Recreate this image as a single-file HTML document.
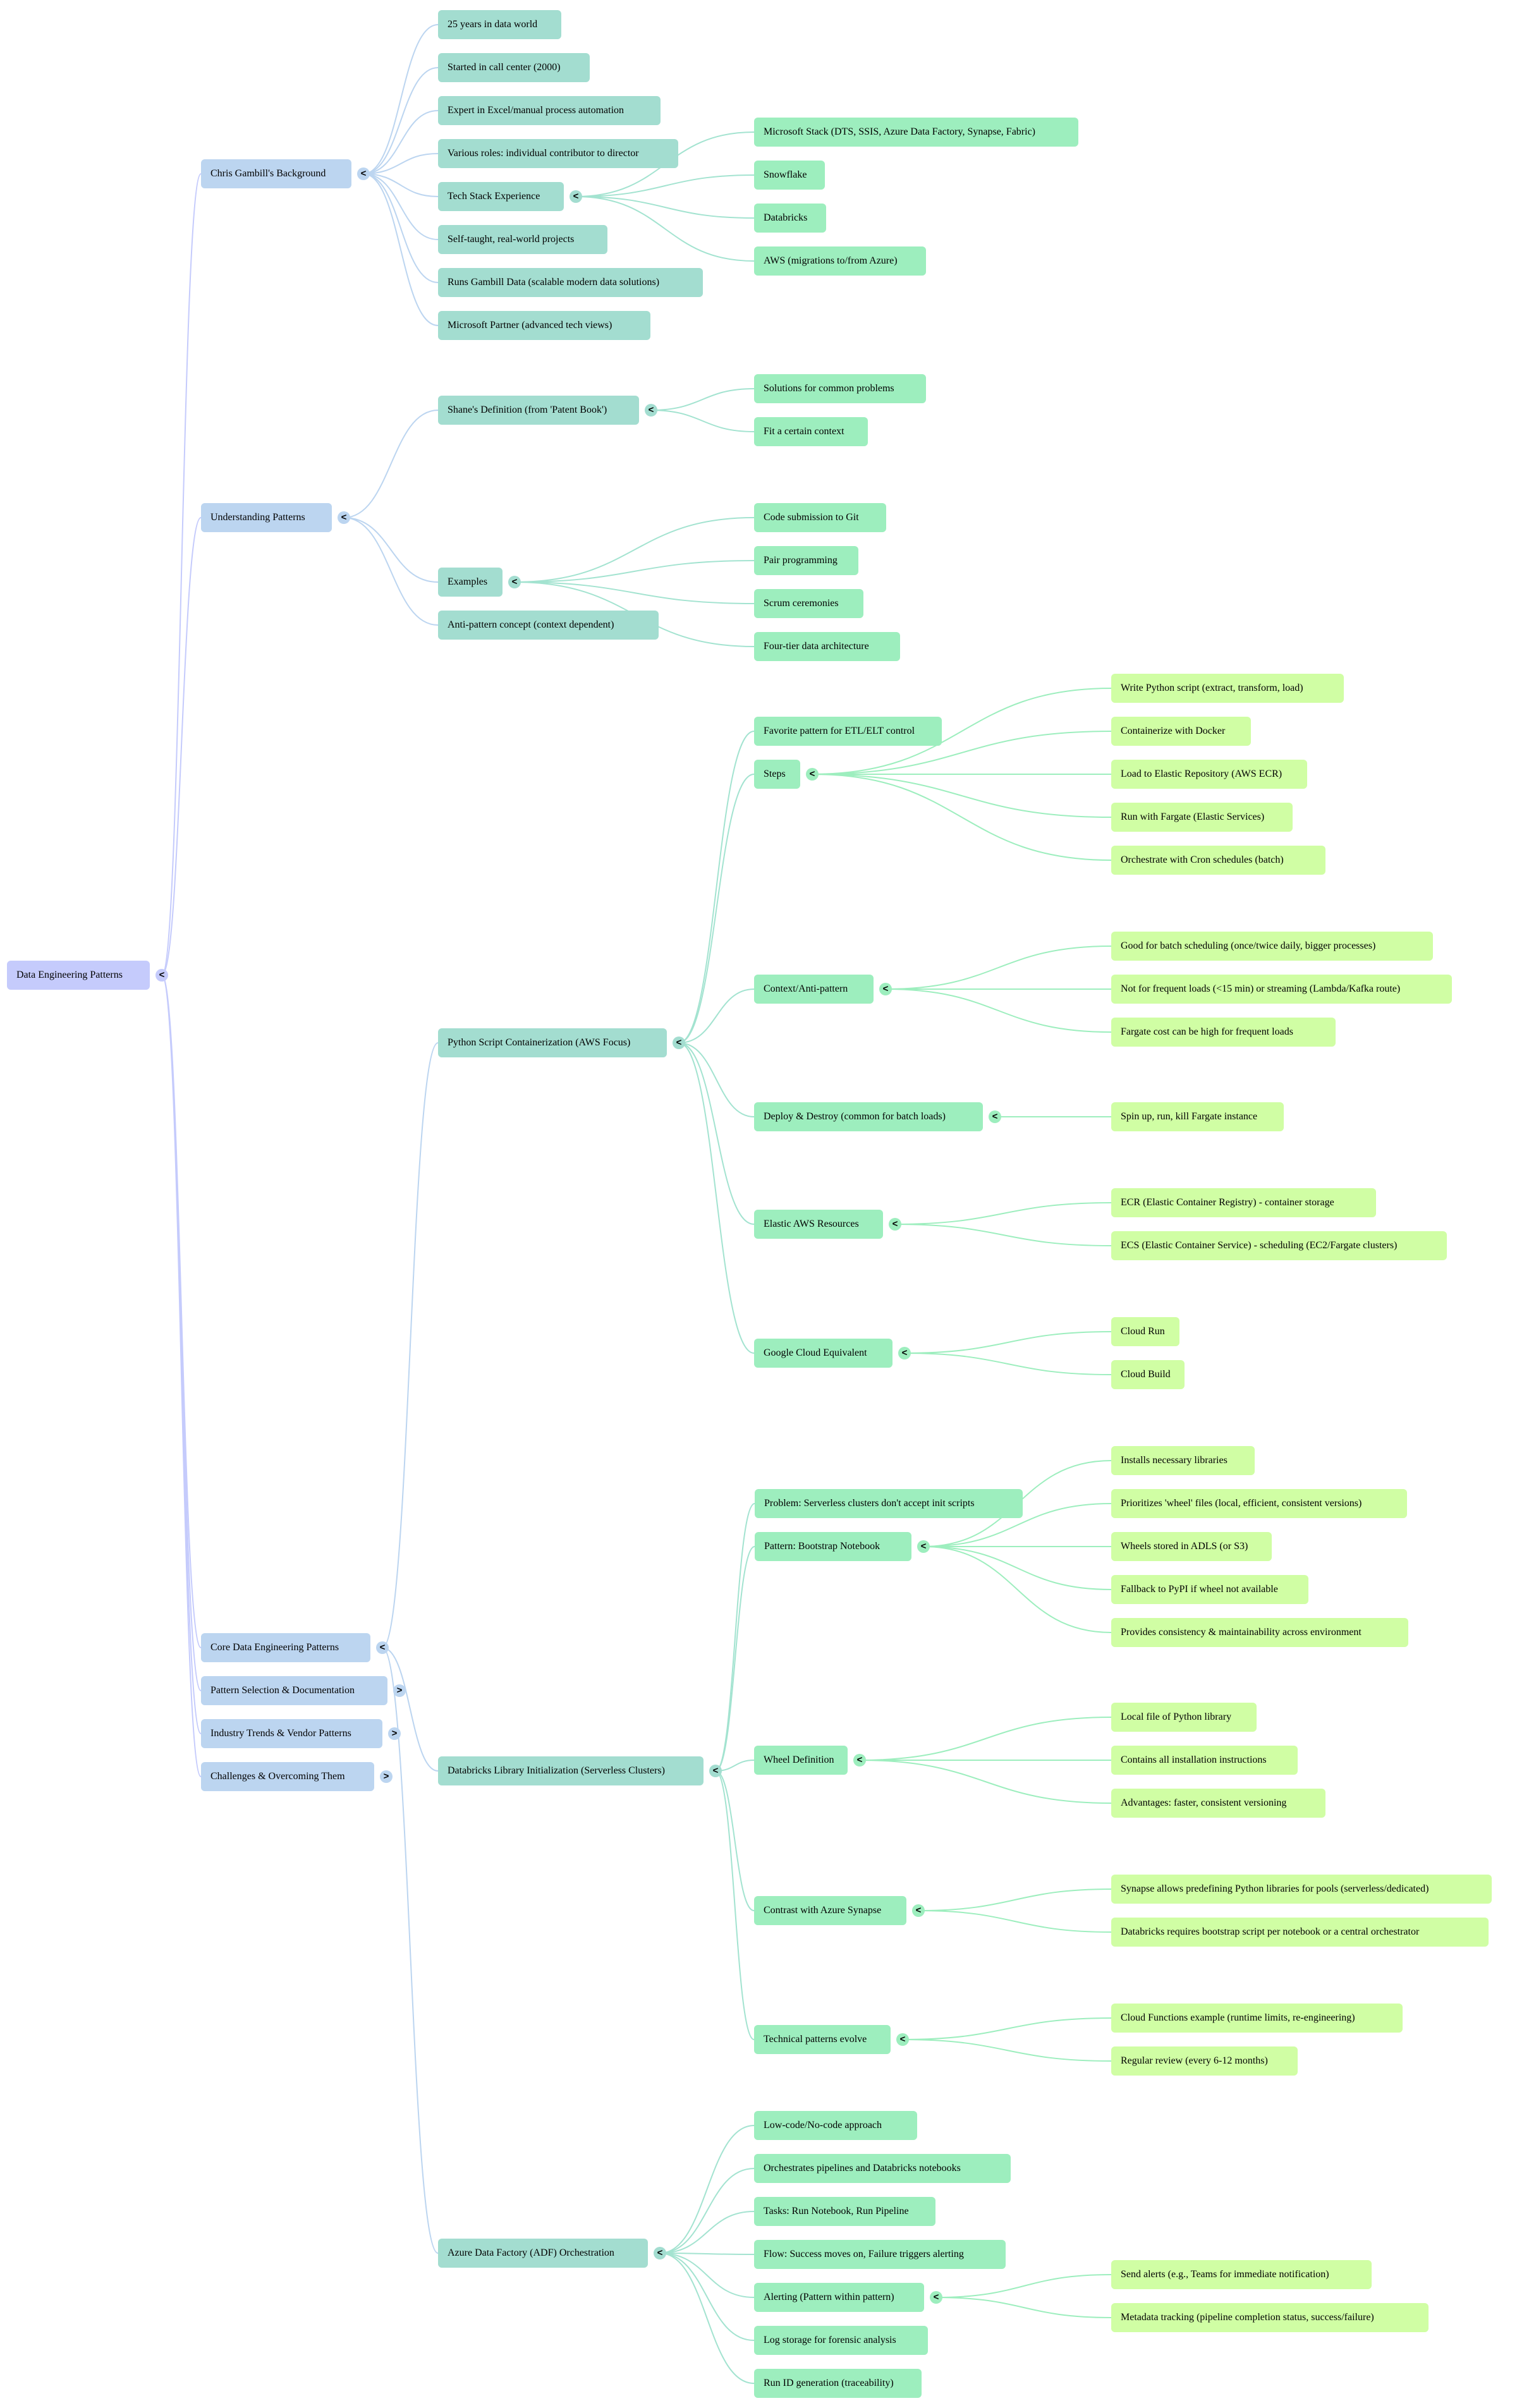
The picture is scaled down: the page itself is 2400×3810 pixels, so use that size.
<!DOCTYPE html>
<html><head><meta charset="utf-8">
<style>
html,body{margin:0;padding:0;background:#fff;}
body{width:2400px;height:3810px;position:relative;overflow:hidden;font-family:"Liberation Serif",serif;font-size:16px;color:#000;}
.n{position:absolute;height:46px;line-height:46px;box-sizing:border-box;padding-left:15px;border-radius:6px;white-space:nowrap;overflow:visible;}
.t{position:absolute;width:20px;height:20px;border-radius:50%;line-height:20px;text-align:center;font-family:"Liberation Sans",sans-serif;font-size:15px;font-weight:bold;}
.r{background:#c5cbfc;}
.b{background:#bcd5f0;}
.m{background:#a3ddd0;}
.g{background:#9deebe;}
.l{background:#d0fea4;}
svg{position:absolute;left:0;top:0;}
</style></head><body>
<svg id="s" width="2400" height="3810"></svg>

<div class="n r" id="root" style="left:11px;top:1520px;width:226px">Data Engineering Patterns</div>

<div class="n b" id="chris" style="left:318px;top:252px;width:238px">Chris Gambill's Background</div>
<div class="n b" id="und" style="left:318px;top:796px;width:207px">Understanding Patterns</div>
<div class="n b" id="core" style="left:318px;top:2584px;width:268px">Core Data Engineering Patterns</div>
<div class="n b" id="psel" style="left:318px;top:2652px;width:295px">Pattern Selection &amp; Documentation</div>
<div class="n b" id="ind" style="left:318px;top:2720px;width:287px">Industry Trends &amp; Vendor Patterns</div>
<div class="n b" id="chal" style="left:318px;top:2788px;width:274px">Challenges &amp; Overcoming Them</div>

<div class="n m" id="c1" style="left:693px;top:16px;width:195px">25 years in data world</div>
<div class="n m" id="c2" style="left:693px;top:84px;width:240px">Started in call center (2000)</div>
<div class="n m" id="c3" style="left:693px;top:152px;width:352px">Expert in Excel/manual process automation</div>
<div class="n m" id="c4" style="left:693px;top:220px;width:380px">Various roles: individual contributor to director</div>
<div class="n m" id="c5" style="left:693px;top:288px;width:199px">Tech Stack Experience</div>
<div class="n m" id="c6" style="left:693px;top:356px;width:268px">Self-taught, real-world projects</div>
<div class="n m" id="c7" style="left:693px;top:424px;width:419px">Runs Gambill Data (scalable modern data solutions)</div>
<div class="n m" id="c8" style="left:693px;top:492px;width:336px">Microsoft Partner (advanced tech views)</div>

<div class="n g" id="t1" style="left:1193px;top:186px;width:513px">Microsoft Stack (DTS, SSIS, Azure Data Factory, Synapse, Fabric)</div>
<div class="n g" id="t2" style="left:1193px;top:254px;width:112px">Snowflake</div>
<div class="n g" id="t3" style="left:1193px;top:322px;width:114px">Databricks</div>
<div class="n g" id="t4" style="left:1193px;top:390px;width:272px">AWS (migrations to/from Azure)</div>

<div class="n m" id="u1" style="left:693px;top:626px;width:318px">Shane's Definition (from 'Patent Book')</div>
<div class="n m" id="u2" style="left:693px;top:898px;width:102px">Examples</div>
<div class="n m" id="u3" style="left:693px;top:966px;width:349px">Anti-pattern concept (context dependent)</div>

<div class="n g" id="s1" style="left:1193px;top:592px;width:272px">Solutions for common problems</div>
<div class="n g" id="s2" style="left:1193px;top:660px;width:180px">Fit a certain context</div>
<div class="n g" id="e1" style="left:1193px;top:796px;width:209px">Code submission to Git</div>
<div class="n g" id="e2" style="left:1193px;top:864px;width:165px">Pair programming</div>
<div class="n g" id="e3" style="left:1193px;top:932px;width:173px">Scrum ceremonies</div>
<div class="n g" id="e4" style="left:1193px;top:1000px;width:231px">Four-tier data architecture</div>

<div class="n m" id="py" style="left:693px;top:1627px;width:362px">Python Script Containerization (AWS Focus)</div>
<div class="n m" id="db" style="left:693px;top:2779px;width:420px">Databricks Library Initialization (Serverless Clusters)</div>
<div class="n m" id="adf" style="left:693px;top:3542px;width:332px">Azure Data Factory (ADF) Orchestration</div>

<div class="n g" id="p1" style="left:1193px;top:1134px;width:297px">Favorite pattern for ETL/ELT control</div>
<div class="n g" id="p2" style="left:1193px;top:1202px;width:73px">Steps</div>
<div class="n g" id="p3" style="left:1193px;top:1542px;width:189px">Context/Anti-pattern</div>
<div class="n g" id="p4" style="left:1193px;top:1744px;width:362px">Deploy &amp; Destroy (common for batch loads)</div>
<div class="n g" id="p5" style="left:1193px;top:1914px;width:204px">Elastic AWS Resources</div>
<div class="n g" id="p6" style="left:1193px;top:2118px;width:219px">Google Cloud Equivalent</div>

<div class="n l" id="st1" style="left:1758px;top:1066px;width:368px">Write Python script (extract, transform, load)</div>
<div class="n l" id="st2" style="left:1758px;top:1134px;width:221px">Containerize with Docker</div>
<div class="n l" id="st3" style="left:1758px;top:1202px;width:310px">Load to Elastic Repository (AWS ECR)</div>
<div class="n l" id="st4" style="left:1758px;top:1270px;width:287px">Run with Fargate (Elastic Services)</div>
<div class="n l" id="st5" style="left:1758px;top:1338px;width:339px">Orchestrate with Cron schedules (batch)</div>
<div class="n l" id="cx1" style="left:1758px;top:1474px;width:509px">Good for batch scheduling (once/twice daily, bigger processes)</div>
<div class="n l" id="cx2" style="left:1758px;top:1542px;width:539px">Not for frequent loads (&lt;15 min) or streaming (Lambda/Kafka route)</div>
<div class="n l" id="cx3" style="left:1758px;top:1610px;width:355px">Fargate cost can be high for frequent loads</div>
<div class="n l" id="dd1" style="left:1758px;top:1744px;width:273px">Spin up, run, kill Fargate instance</div>
<div class="n l" id="el1" style="left:1758px;top:1880px;width:419px">ECR (Elastic Container Registry) - container storage</div>
<div class="n l" id="el2" style="left:1758px;top:1948px;width:531px">ECS (Elastic Container Service) - scheduling (EC2/Fargate clusters)</div>
<div class="n l" id="gc1" style="left:1758px;top:2084px;width:108px">Cloud Run</div>
<div class="n l" id="gc2" style="left:1758px;top:2152px;width:116px">Cloud Build</div>

<div class="n g" id="d1" style="left:1194px;top:2356px;width:424px">Problem: Serverless clusters don't accept init scripts</div>
<div class="n g" id="d2" style="left:1194px;top:2424px;width:248px">Pattern: Bootstrap Notebook</div>
<div class="n g" id="d3" style="left:1193px;top:2762px;width:148px">Wheel Definition</div>
<div class="n g" id="d4" style="left:1193px;top:3000px;width:241px">Contrast with Azure Synapse</div>
<div class="n g" id="d5" style="left:1193px;top:3204px;width:216px">Technical patterns evolve</div>

<div class="n l" id="bn1" style="left:1758px;top:2288px;width:227px">Installs necessary libraries</div>
<div class="n l" id="bn2" style="left:1758px;top:2356px;width:468px">Prioritizes 'wheel' files (local, efficient, consistent versions)</div>
<div class="n l" id="bn3" style="left:1758px;top:2424px;width:254px">Wheels stored in ADLS (or S3)</div>
<div class="n l" id="bn4" style="left:1758px;top:2492px;width:312px">Fallback to PyPI if wheel not available</div>
<div class="n l" id="bn5" style="left:1758px;top:2560px;width:470px">Provides consistency &amp; maintainability across environment</div>
<div class="n l" id="wd1" style="left:1758px;top:2694px;width:230px">Local file of Python library</div>
<div class="n l" id="wd2" style="left:1758px;top:2762px;width:295px">Contains all installation instructions</div>
<div class="n l" id="wd3" style="left:1758px;top:2830px;width:339px">Advantages: faster, consistent versioning</div>
<div class="n l" id="cs1" style="left:1758px;top:2966px;width:602px">Synapse allows predefining Python libraries for pools (serverless/dedicated)</div>
<div class="n l" id="cs2" style="left:1758px;top:3034px;width:597px">Databricks requires bootstrap script per notebook or a central orchestrator</div>
<div class="n l" id="tp1" style="left:1758px;top:3170px;width:461px">Cloud Functions example (runtime limits, re-engineering)</div>
<div class="n l" id="tp2" style="left:1758px;top:3238px;width:295px">Regular review (every 6-12 months)</div>

<div class="n g" id="a1" style="left:1193px;top:3340px;width:258px">Low-code/No-code approach</div>
<div class="n g" id="a2" style="left:1193px;top:3408px;width:406px">Orchestrates pipelines and Databricks notebooks</div>
<div class="n g" id="a3" style="left:1193px;top:3476px;width:287px">Tasks: Run Notebook, Run Pipeline</div>
<div class="n g" id="a4" style="left:1193px;top:3544px;width:398px">Flow: Success moves on, Failure triggers alerting</div>
<div class="n g" id="a5" style="left:1193px;top:3612px;width:269px">Alerting (Pattern within pattern)</div>
<div class="n g" id="a6" style="left:1193px;top:3680px;width:275px">Log storage for forensic analysis</div>
<div class="n g" id="a7" style="left:1193px;top:3748px;width:265px">Run ID generation (traceability)</div>
<div class="n l" id="al1" style="left:1758px;top:3576px;width:412px">Send alerts (e.g., Teams for immediate notification)</div>
<div class="n l" id="al2" style="left:1758px;top:3644px;width:502px">Metadata tracking (pipeline completion status, success/failure)</div>

<!-- toggles -->
<div class="t r" style="left:246px;top:1533px">&lt;</div>
<div class="t b" style="left:565px;top:265px">&lt;</div>
<div class="t b" style="left:534px;top:809px">&lt;</div>
<div class="t b" style="left:595px;top:2597px">&lt;</div>
<div class="t b" style="left:622px;top:2665px">&gt;</div>
<div class="t b" style="left:614px;top:2733px">&gt;</div>
<div class="t b" style="left:601px;top:2801px">&gt;</div>
<div class="t m" style="left:901px;top:301px">&lt;</div>
<div class="t m" style="left:1020px;top:639px">&lt;</div>
<div class="t m" style="left:804px;top:911px">&lt;</div>
<div class="t m" style="left:1064px;top:1640px">&lt;</div>
<div class="t m" style="left:1122px;top:2792px">&lt;</div>
<div class="t m" style="left:1034px;top:3555px">&lt;</div>
<div class="t g" style="left:1275px;top:1215px">&lt;</div>
<div class="t g" style="left:1391px;top:1555px">&lt;</div>
<div class="t g" style="left:1564px;top:1757px">&lt;</div>
<div class="t g" style="left:1406px;top:1927px">&lt;</div>
<div class="t g" style="left:1421px;top:2131px">&lt;</div>
<div class="t g" style="left:1451px;top:2437px">&lt;</div>
<div class="t g" style="left:1350px;top:2775px">&lt;</div>
<div class="t g" style="left:1443px;top:3013px">&lt;</div>
<div class="t g" style="left:1418px;top:3217px">&lt;</div>
<div class="t g" style="left:1471px;top:3625px">&lt;</div>

<script>
(function(){
var E=[
['root',['chris','und','core','psel','ind','chal'],'#c5cbfc'],
['chris',['c1','c2','c3','c4','c5','c6','c7','c8'],'#bcd5f0'],
['c5',['t1','t2','t3','t4'],'#a3e3d0'],
['und',['u1','u2','u3'],'#bcd5f0'],
['u1',['s1','s2'],'#a3e3d0'],
['u2',['e1','e2','e3','e4'],'#a3e3d0'],
['core',['py','db','adf'],'#bcd5f0'],
['py',['p1','p2','p3','p4','p5','p6'],'#a3e3d0'],
['p2',['st1','st2','st3','st4','st5'],'#9deebe'],
['p3',['cx1','cx2','cx3'],'#9deebe'],
['p4',['dd1'],'#9deebe'],
['p5',['el1','el2'],'#9deebe'],
['p6',['gc1','gc2'],'#9deebe'],
['db',['d1','d2','d3','d4','d5'],'#a3e3d0'],
['d2',['bn1','bn2','bn3','bn4','bn5'],'#9deebe'],
['d3',['wd1','wd2','wd3'],'#9deebe'],
['d4',['cs1','cs2'],'#9deebe'],
['d5',['tp1','tp2'],'#9deebe'],
['adf',['a1','a2','a3','a4','a5','a6','a7'],'#a3e3d0'],
['a5',['al1','al2'],'#9deebe']
];
var s=document.getElementById('s'),h='';
function g(id){var e=document.getElementById(id);return {x:e.offsetLeft,y:e.offsetTop+23,r:e.offsetLeft+e.offsetWidth};}
E.forEach(function(d){var p=g(d[0]);var sx=p.r+19,sy=p.y;
d[1].forEach(function(c){var q=g(c);var ex=q.x,ey=q.y;var mx=(sx+ex)/2;
h+='<path d="M'+sx+','+sy+' C'+mx+','+sy+' '+mx+','+ey+' '+ex+','+ey+'" fill="none" stroke="'+d[2]+'" stroke-width="2"/>';});});
s.innerHTML=h;
})();
</script>
</body></html>
